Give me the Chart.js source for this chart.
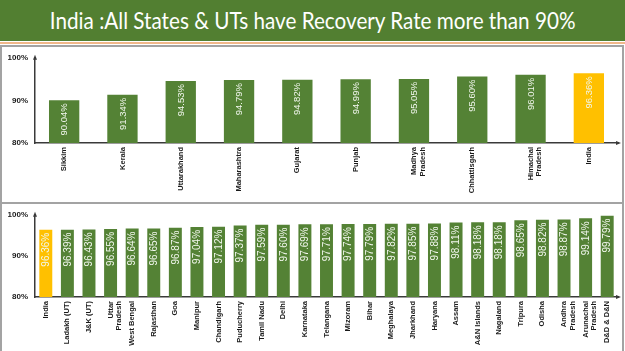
<!DOCTYPE html>
<html>
<head>
<meta charset="utf-8">
<script src="https://cdn.jsdelivr.net/npm/chart.js@4.4.1/dist/chart.umd.min.js"></script>
<style>
  body { margin: 0; width: 625px; height: 351px; overflow: hidden; background: #fff; position: relative; font-family: "Lato", sans-serif; }
  .title { position: absolute; left: 0; top: 0; width: 625px; height: 41px; background: #527f31; color: #fff;
           line-height: 41px; text-align: center; white-space: nowrap; }
  .title span { display: inline-block; font-size: 23.5px; transform: scaleX(0.88); transform-origin: center; }
  .rule { position: absolute; left: 0; top: 42px; width: 625px; height: 2px; background: #f1b88a; }
  .box { position: absolute; left: 0; width: 624px; border: 2px solid #a3a3a3; box-sizing: border-box; }
  #box1 { top: 45px; height: 159px; }
  #box2 { top: 202px; height: 160px; }
  canvas { position: absolute; left: 0; }
  #topChart { top: 46px; }
  #bottomChart { top: 203px; }
</style>
</head>
<body>
<div class="title"><span>India :All States &amp; UTs have Recovery Rate more than 90%</span></div>
<div class="rule"></div>
<div class="box" id="box1"></div>
<div class="box" id="box2"></div>
<canvas id="topChart" width="625" height="155"></canvas>
<canvas id="bottomChart" width="625" height="148"></canvas>
<script>
// ===== DATA =====
const topLabels = ["Sikkim", "Kerala", "Uttarakhand", "Maharashtra", "Gujarat", "Punjab",
  ["Madhya", "Pradesh"], "Chhattisgarh", ["Himachal", "Pradesh"], "India"];
const topValues = [90.04, 91.34, 94.53, 94.79, 94.82, 94.99, 95.05, 95.60, 96.01, 96.36];

const bottomLabels = ["India", "Ladakh (UT)", "J&K (UT)", ["Uttar", "Pradesh"], "West Bengal", "Rajasthan",
  "Goa", "Manipur", "Chandigarh", "Puducherry", "Tamil Nadu", "Delhi", "Karnataka", "Telangana",
  "Mizoram", "Bihar", "Meghalaya", "Jharkhand", "Haryana", "Assam", "A&N Islands", "Nagaland",
  "Tripura", "Odisha", ["Andhra", "Pradesh"], ["Arunachal", "Pradesh"], "D&D & D&N"];
const bottomValues = [96.36, 96.39, 96.43, 96.55, 96.64, 96.65, 96.87, 97.04, 97.12, 97.37, 97.59,
  97.60, 97.69, 97.71, 97.74, 97.79, 97.82, 97.85, 97.88, 98.11, 98.18, 98.18, 98.65, 98.82,
  98.87, 99.14, 99.79];

const yTicks = [80, 90, 100];

const GREEN = "#548235";
const GOLD = "#ffc000";
const AXIS = "#3a3a3a";

// ===== PLUGINS =====
// value labels written upward inside each bar, anchored at its top
const barText = {
  id: "barText",
  afterDatasetsDraw(chart, args, opts) {
    const ctx = chart.ctx;
    const meta = chart.getDatasetMeta(0);
    const values = chart.data.datasets[0].data;
    ctx.save();
    ctx.fillStyle = "#f2f7ee";
    ctx.font = opts.font;
    ctx.textAlign = "right";
    ctx.textBaseline = "middle";
    meta.data.forEach((bar, i) => {
      ctx.save();
      ctx.translate(bar.x + 0.5, bar.y + opts.offset);
      ctx.rotate(-Math.PI / 2);
      ctx.fillText(values[i].toFixed(2) + "%", 0, 0);
      ctx.restore();
    });
    ctx.restore();
  }
};

// arrow heads at the axis ends
const axisArrows = {
  id: "axisArrows",
  afterDraw(chart) {
    const { ctx, chartArea: a } = chart;
    ctx.save();
    ctx.fillStyle = AXIS;
    ctx.beginPath();
    ctx.moveTo(a.left, a.top - 3);
    ctx.lineTo(a.left - 2, a.top + 2);
    ctx.lineTo(a.left + 2, a.top + 2);
    ctx.fill();
    ctx.beginPath();
    ctx.moveTo(a.right + 3, a.bottom);
    ctx.lineTo(a.right - 2, a.bottom - 2);
    ctx.lineTo(a.right - 2, a.bottom + 2);
    ctx.fill();
    ctx.restore();
  }
};

// ===== CHART HELPER =====
function makeChart(canvasId, labels, values, cfg) {
  const ctx = document.getElementById(canvasId);
  return new Chart(ctx, {
    type: "bar",
    data: {
      labels,
      datasets: [{
        data: values,
        backgroundColor: labels.map(l => l === "India" ? GOLD : GREEN),
        barPercentage: cfg.barPct,
        categoryPercentage: 1
      }]
    },
    options: {
      responsive: false,
      animation: false,
      devicePixelRatio: 1,
      layout: { padding: { top: cfg.padTop, right: 7, left: 0, bottom: 0 } },
      plugins: {
        legend: { display: false },
        tooltip: { enabled: false },
        barText: { font: cfg.valueFont, offset: 3 }
      },
      scales: {
        x: {
          grid: { display: false, drawTicks: false },
          border: { display: true, color: AXIS, width: 1.5 },
          ticks: {
            color: "#1a1a1a",
            font: { family: "Liberation Sans", size: 7.5, weight: "bold", lineHeight: 1.15 },
            minRotation: 90, maxRotation: 90, autoSkip: false, padding: 4
          },
          afterFit: s => { s.height = cfg.xHeight; }
        },
        y: {
          min: 80, max: 100,
          afterBuildTicks: s => { s.ticks = yTicks.map(v => ({ value: v })); },
          grid: { display: false, drawTicks: false },
          border: { display: true, color: AXIS, width: 1.5 },
          ticks: {
            color: "#1a1a1a",
            font: { family: "Liberation Sans", size: 8, weight: "bold" },
            padding: 7,
            callback: v => v + "%"
          },
          afterFit: s => { s.width = 35; }
        }
      }
    },
    plugins: [barText, axisArrows]
  });
}

// ===== INIT CHARTS =====
makeChart("topChart", topLabels, topValues,
  { barPct: 0.52, padTop: 10, xHeight: 58, valueFont: "9.5px 'Liberation Sans'" });
makeChart("bottomChart", bottomLabels, bottomValues,
  { barPct: 0.6, padTop: 9, xHeight: 54, valueFont: "10px 'Liberation Sans'" });
</script>
</body>
</html>
